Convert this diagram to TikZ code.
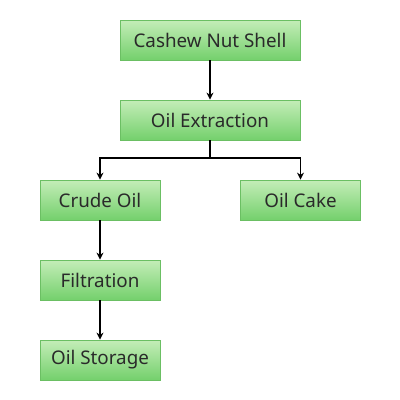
\documentclass[tikz,border=0pt]{standalone}
\usepackage{fontspec}
\setmainfont{Noto Sans}
\usetikzlibrary{arrows.meta}
\definecolor{boxtop}{HTML}{C4EDB8}
\definecolor{boxbot}{HTML}{74D06C}
\definecolor{boxline}{HTML}{6BBF63}
\definecolor{txt}{HTML}{2A2A2A}
\tikzset{
  stepbox/.style={rectangle, draw=boxline, line width=0.8pt, top color=boxtop, bottom color=boxbot,
    minimum height=40pt, inner sep=0pt, text=txt, font=\fontsize{18.8}{20}\selectfont},
  flow/.style={line width=1.2pt, -{Stealth[length=7pt,width=7pt]}}
}
\begin{document}
\begin{tikzpicture}[x=1pt,y=-1pt]
\useasboundingbox[fill=white] (0,0) rectangle (400,400);
\node[stepbox, minimum width=180pt] (cns) at (210,40) {Cashew Nut Shell};
\node[stepbox, minimum width=180pt] (oe) at (210,120) {Oil Extraction};
\node[stepbox, minimum width=120pt] (co) at (100,200) {Crude Oil};
\node[stepbox, minimum width=120pt] (ck) at (300.5,200) {Oil Cake};
\node[stepbox, minimum width=120pt] (fi) at (100,280) {Filtration};
\node[stepbox, minimum width=120pt] (os) at (100,360) {Oil Storage};
\coordinate (split) at (210,158);
\draw[flow] (cns) -- (oe);
\draw[line width=1.2pt] (oe.south) -- (split);
\draw[flow] (split) -| (co.north);
\draw[flow] (split) -| (ck.north);
\draw[flow] (co) -- (fi);
\draw[flow] (fi) -- (os);
\end{tikzpicture}
\end{document}
